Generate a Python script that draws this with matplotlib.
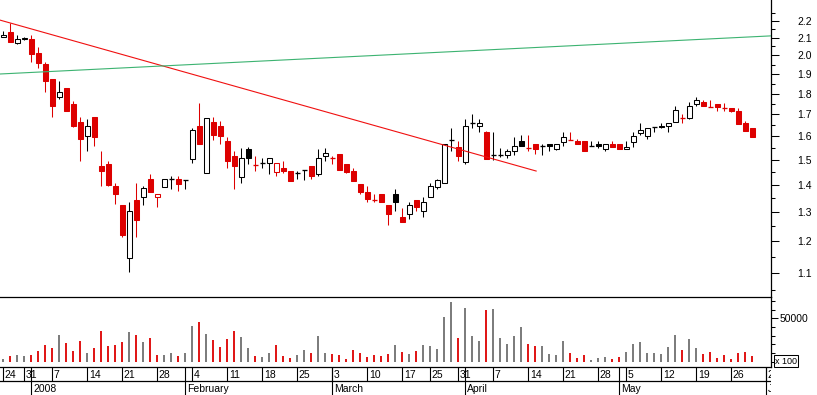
import numpy as np
import pandas as pd
import matplotlib
matplotlib.use("Agg")
import matplotlib.pyplot as plt
from matplotlib.ticker import FixedLocator, FixedFormatter, NullFormatter

plt.rcParams['font.family'] = ['Liberation Sans', 'DejaVu Sans']

# trading calendar (Euronext style holidays), June 2 only used for the axis
holidays = ["2007-12-25", "2007-12-26", "2008-01-01", "2008-03-21", "2008-03-24", "2008-05-01"]
first_day = "2007-12-24"
last_axis_day = "2008-06-02"

open_ = [2.106, 2.133, 2.069, 2.092, 2.092, 2.013, 1.953, 1.874, 1.784, 1.828,
         1.750, 1.665, 1.602, 1.688, 1.475, 1.483, 1.396, 1.325, 1.145, 1.344,
         1.355, 1.423, 1.355, 1.392, 1.423, 1.423, 1.420, 1.504, 1.647, 1.447,
         1.665, 1.647, 1.580, 1.516, 1.431, 1.546, 1.479, 1.487, 1.487, 1.451,
         1.467, 1.455, 1.447, 1.459, 1.475, 1.443, 1.516, 1.508, 1.525, 1.483,
         1.455, 1.404, 1.373, 1.345, 1.366, 1.325, 1.366, 1.282, 1.293, 1.344,
         1.304, 1.355, 1.392, 1.408, 1.585, 1.554, 1.492, 1.660, 1.647, 1.620,
         1.521, 1.521, 1.521, 1.537, 1.580, 1.550, 1.567, 1.559, 1.567, 1.546,
         1.576, 1.585, 1.580, 1.580, 1.557, 1.567, 1.546, 1.567, 1.567, 1.546,
         1.576, 1.616, 1.602, 1.642, 1.647, 1.647, 1.665, 1.683, 1.683, 1.750,
         1.759, 1.737, 1.750, 1.730, 1.730, 1.716, 1.660, 1.638]

high = [2.138, 2.186, 2.115, 2.103, 2.115, 2.047, 1.964, 1.874, 1.864, 1.828,
        1.764, 1.688, 1.679, 1.688, 1.537, 1.496, 1.408, 1.325, 1.336, 1.408,
        1.396, 1.443, 1.366, 1.423, 1.435, 1.435, 1.420, 1.638, 1.754, 1.683,
        1.688, 1.670, 1.598, 1.537, 1.550, 1.554, 1.516, 1.508, 1.508, 1.487,
        1.496, 1.455, 1.455, 1.459, 1.475, 1.546, 1.550, 1.516, 1.525, 1.483,
        1.467, 1.404, 1.396, 1.366, 1.366, 1.325, 1.385, 1.314, 1.336, 1.344,
        1.355, 1.408, 1.423, 1.567, 1.638, 1.580, 1.679, 1.702, 1.679, 1.624,
        1.620, 1.550, 1.546, 1.598, 1.607, 1.607, 1.567, 1.567, 1.567, 1.567,
        1.620, 1.620, 1.589, 1.580, 1.580, 1.580, 1.567, 1.580, 1.567, 1.580,
        1.620, 1.660, 1.638, 1.642, 1.660, 1.660, 1.740, 1.702, 1.759, 1.784,
        1.769, 1.769, 1.750, 1.754, 1.730, 1.730, 1.670, 1.638]

low = [2.103, 2.075, 2.063, 2.089, 1.964, 1.932, 1.808, 1.688, 1.774, 1.716,
       1.642, 1.496, 1.537, 1.559, 1.396, 1.396, 1.329, 1.214, 1.102, 1.214,
       1.325, 1.373, 1.318, 1.392, 1.385, 1.377, 1.385, 1.487, 1.567, 1.447,
       1.585, 1.567, 1.467, 1.385, 1.408, 1.483, 1.455, 1.467, 1.443, 1.435,
       1.447, 1.416, 1.423, 1.420, 1.423, 1.435, 1.496, 1.483, 1.459, 1.447,
       1.416, 1.366, 1.336, 1.336, 1.336, 1.254, 1.304, 1.265, 1.275, 1.304,
       1.282, 1.355, 1.385, 1.408, 1.537, 1.496, 1.483, 1.638, 1.620, 1.504,
       1.500, 1.512, 1.508, 1.521, 1.557, 1.537, 1.526, 1.521, 1.537, 1.542,
       1.559, 1.585, 1.567, 1.537, 1.557, 1.550, 1.537, 1.554, 1.546, 1.546,
       1.554, 1.607, 1.589, 1.620, 1.638, 1.620, 1.665, 1.660, 1.679, 1.740,
       1.740, 1.737, 1.716, 1.716, 1.712, 1.656, 1.624, 1.598]

close = [2.118, 2.075, 2.092, 2.100, 2.008, 1.958, 1.864, 1.740, 1.808, 1.716,
         1.647, 1.589, 1.647, 1.598, 1.455, 1.400, 1.366, 1.220, 1.304, 1.272,
         1.389, 1.373, 1.366, 1.423, 1.423, 1.404, 1.420, 1.629, 1.567, 1.683,
         1.607, 1.602, 1.496, 1.475, 1.508, 1.508, 1.479, 1.487, 1.508, 1.487,
         1.455, 1.416, 1.447, 1.459, 1.435, 1.508, 1.529, 1.508, 1.459, 1.453,
         1.416, 1.373, 1.347, 1.345, 1.336, 1.293, 1.336, 1.265, 1.325, 1.318,
         1.336, 1.396, 1.420, 1.567, 1.585, 1.516, 1.647, 1.660, 1.660, 1.504,
         1.521, 1.521, 1.537, 1.557, 1.557, 1.550, 1.546, 1.559, 1.559, 1.567,
         1.598, 1.585, 1.567, 1.537, 1.557, 1.557, 1.567, 1.554, 1.546, 1.554,
         1.602, 1.629, 1.638, 1.642, 1.642, 1.660, 1.721, 1.683, 1.740, 1.769,
         1.740, 1.737, 1.733, 1.730, 1.716, 1.656, 1.624, 1.598]

# volume in units of 100
volume = [3500, 6900, 8100, 6900, 8100, 12700, 19600, 16100, 31100, 21900,
          12700, 24200, 10400, 16100, 35700, 18400, 19600, 23000, 34600, 31100,
          23000, 27600, 8100, 8100, 10400, 6900, 10400, 41500, 46100, 32300,
          25300, 17300, 26500, 35700, 28800, 16100, 6900, 5800, 10400, 19600,
          6900, 4600, 8100, 13800, 10400, 30000, 10400, 9200, 8100, 3500,
          13800, 10400, 5800, 8100, 6900, 9200, 19600, 11500, 9200, 12700,
          19600, 18400, 15000, 51800, 69100, 27600, 62200, 30000, 24200, 59900,
          61100, 27600, 20700, 30000, 40300, 20700, 18400, 18400, 9200, 8100,
          24200, 10400, 4600, 8100, 2300, 4600, 5800, 3500, 5800, 11500,
          20700, 23000, 10400, 10400, 9200, 17300, 31100, 13800, 26500, 16100,
          9200, 11500, 4600, 8100, 3500, 10400, 11500, 6900]

# trend lines: (bar index, price) end points
red_trend_x = [-0.5, 76.1]
red_trend_y = [2.204, 1.455]
green_trend_x = [-0.5, 109.6]
green_trend_y = [1.900, 2.110]

price_ticks = [1.1, 1.2, 1.3, 1.4, 1.5, 1.6, 1.7, 1.8, 1.9, 2.0, 2.1, 2.2]
price_minor = [1.05, 1.15, 1.25, 1.35, 1.45, 1.55, 1.65, 1.75, 1.85, 1.95, 2.05, 2.15, 2.25]
vol_ticks = [50000]
vol_minor = [0, 10000, 20000, 30000, 40000, 60000, 70000]

RED = "#dd0000"
GREY = "#707070"

days = pd.bdate_range(first_day, last_axis_day)
days = days[~days.isin(pd.to_datetime(holidays))]

o = np.array(open_)
h = np.array(high)
l = np.array(low)
c = np.array(close)
v = np.array(volume)
x = np.arange(len(c))

prev = np.r_[o[0], c[:-1]]
up = c >= prev
col = np.where(up, "black", RED)
hollow = c > o
filled = c < o
doji = c == o

W, H = 817, 395
fig = plt.figure(figsize=(W / 100, H / 100), dpi=100)
right = 770.7 / W
ax = fig.add_axes([0, 1 - 297.3 / H, right, 297.3 / H])
vax = fig.add_axes([0, 1 - 366.7 / H, right, 69.4 / H])
dax = fig.add_axes([0, 0, right, 28.3 / H])
xlim = (-0.47, 109.6)

# price panel
bw = 0.64
lw = 0.75
ax.vlines(x, l, h, colors=col, lw=lw, zorder=1)
ax.bar(x[hollow], (c - o)[hollow], bottom=o[hollow], width=bw,
       facecolor="white", edgecolor=col[hollow], lw=lw, zorder=2)
ax.bar(x[filled], (o - c)[filled], bottom=c[filled], width=bw,
       facecolor=col[filled], edgecolor=col[filled], lw=lw, zorder=2)
ax.hlines(c[doji], x[doji] - bw / 2 - 0.05, x[doji] + bw / 2 + 0.05,
          colors=col[doji], lw=lw + 0.2, zorder=2)
ax.plot(red_trend_x, red_trend_y, color="#f01010", lw=0.8, zorder=3)
ax.plot(green_trend_x, green_trend_y, color="#3cb371", lw=0.8, zorder=3)

ax.set_yscale("log")
ax.set_ylim(1.0281, 2.3289)
ax.set_xlim(*xlim)
ax.yaxis.tick_right()
ax.yaxis.set_major_locator(FixedLocator(price_ticks))
ax.yaxis.set_major_formatter(FixedFormatter(["%.1f" % t for t in price_ticks]))
ax.yaxis.set_minor_locator(FixedLocator(price_minor))
ax.yaxis.set_minor_formatter(NullFormatter())
ax.tick_params(axis="y", which="major", length=5.8, width=0.75, pad=13.5, labelsize=7.5)
ax.tick_params(axis="y", which="minor", length=2.9, width=0.75)
ax.set_xticks([])
for s in ["left", "top", "bottom"]:
    ax.spines[s].set_visible(False)
ax.spines["right"].set_linewidth(0.9)

# volume panel
vcol = np.where(up, GREY, RED)
vax.vlines(x, 0, v, colors=vcol, lw=1.3)
vax.set_xlim(*xlim)
vax.set_ylim(-5760, 74190)
vax.yaxis.tick_right()
vax.yaxis.set_major_locator(FixedLocator(vol_ticks))
vax.yaxis.set_major_formatter(FixedFormatter([str(t) for t in vol_ticks]))
vax.yaxis.set_minor_locator(FixedLocator(vol_minor))
vax.yaxis.set_minor_formatter(NullFormatter())
vax.tick_params(axis="y", which="major", length=4.7, width=0.75, pad=2, labelsize=7.5)
vax.tick_params(axis="y", which="minor", length=3, width=0.75)
vax.set_xticks([])
vax.spines["left"].set_visible(False)
for s in ["top", "bottom", "right"]:
    vax.spines[s].set_linewidth(0.9)
fig.text(775 / W, 1 - 361.2 / H, "x 100", fontsize=6.5, ha="left", va="center",
         bbox=dict(boxstyle="square,pad=0.15", fc="white", ec="black", lw=0.75))

# date band
week = days.isocalendar().week.values
week_start = [i for i in range(len(days)) if i == 0 or week[i] != week[i - 1]]
month_start = [i for i in range(1, len(days)) if days[i].month != days[i - 1].month]

dax.set_xlim(*xlim)
dax.set_ylim(28.3, 0)
dax.axis("off")
dax.axhline(14.6, color="black", lw=0.9)
dax.vlines(week_start, 0, 14.6, colors="black", lw=0.8)
dax.vlines(month_start, 0, 28.3, colors="black", lw=0.8)
for i in week_start:
    dax.text(i + 0.2, 8.8, str(days[i].day), fontsize=7.5, ha="left", va="center",
             clip_on=True)
for i in month_start:
    name = str(days[i].year) if days[i].month == 1 else days[i].strftime("%B")
    dax.text(i + 0.25, 22.0, name, fontsize=7.5, ha="left", va="center", clip_on=True)

fig.savefig("out.png", dpi=100)
